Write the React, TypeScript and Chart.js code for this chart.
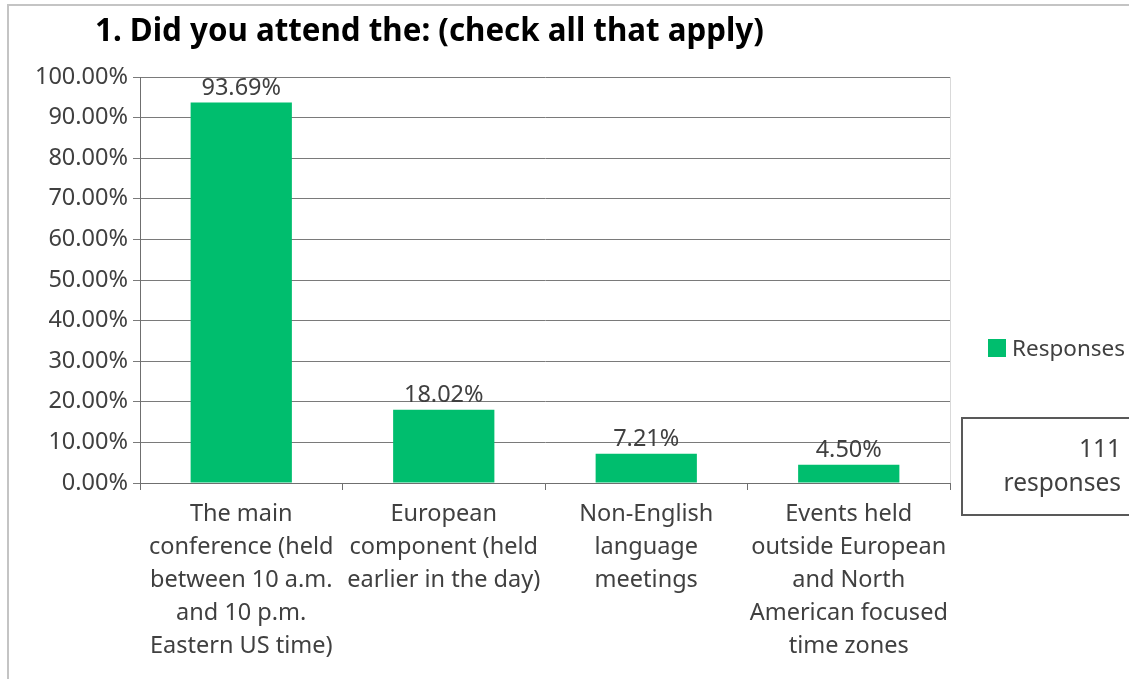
import React, { useEffect, useRef } from "react";
import { Chart, registerables } from "chart.js";

Chart.register(...registerables);

const TITLE = "1. Did you attend the: (check all that apply)";
const categories: string[][] = [
  ["The main", "conference (held", "between 10 a.m.", "and 10 p.m.", "Eastern US time)"],
  ["European", "component (held", "earlier in the day)"],
  ["Non-English", "language", "meetings"],
  ["Events held", "outside European", "and North", "American focused", "time zones"],
];
const seriesName = "Responses";
const values = [93.69, 18.02, 7.21, 4.5];
const yMin = 0;
const yMax = 100;
const yStep = 10;
const noteLines = ["111", "responses"];

const FONT = "'Noto Sans', 'DejaVu Sans', sans-serif";
const BAR_COLOR = "#00BE6E";
const TEXT_COLOR = "#404040";
const FS = 23.5;

const decor = {
  id: "decor",
  beforeDraw(chart: any) {
    const ctx = chart.ctx;
    ctx.save();
    ctx.fillStyle = "#ffffff";
    ctx.fillRect(0, 0, chart.width, chart.height);
    ctx.strokeStyle = "#c4c4c4";
    ctx.lineWidth = 2;
    ctx.beginPath();
    ctx.moveTo(8, chart.height);
    ctx.lineTo(8, 5);
    ctx.lineTo(chart.width, 5);
    ctx.stroke();
    ctx.restore();
  },
  afterDatasetsDraw(chart: any) {
    const ctx = chart.ctx;
    const meta = chart.getDatasetMeta(0);
    ctx.save();
    ctx.font = `${FS}px ${FONT}`;
    ctx.fillStyle = TEXT_COLOR;
    ctx.textAlign = "center";
    ctx.textBaseline = "alphabetic";
    meta.data.forEach((bar: any, i: number) => {
      ctx.fillText(values[i].toFixed(2) + "%", bar.x, bar.y - 8);
    });
    ctx.restore();
  },
  afterDraw(chart: any) {
    const ctx = chart.ctx;
    const area = chart.chartArea;
    ctx.save();
    // right edge of plot area
    ctx.strokeStyle = "#d9d9d9";
    ctx.lineWidth = 1;
    ctx.beginPath();
    ctx.moveTo(area.right + 0.5, area.top);
    ctx.lineTo(area.right + 0.5, area.bottom);
    ctx.stroke();

    // title
    ctx.fillStyle = "#000000";
    ctx.font = `bold 31.3px ${FONT}`;
    ctx.textAlign = "left";
    ctx.textBaseline = "alphabetic";
    ctx.fillText(TITLE, 95, 41);

    // legend
    ctx.fillStyle = BAR_COLOR;
    ctx.fillRect(988, 339, 18, 18);
    ctx.fillStyle = TEXT_COLOR;
    ctx.font = `22.5px ${FONT}`;
    ctx.fillText(seriesName, 1012, 356);

    // responses box
    ctx.strokeStyle = "#595959";
    ctx.lineWidth = 2;
    ctx.strokeRect(962, 418, 200, 97);
    ctx.fillStyle = TEXT_COLOR;
    ctx.font = `24.5px ${FONT}`;
    ctx.textAlign = "right";
    ctx.fillText(noteLines[0], 1121, 457);
    ctx.fillText(noteLines[1], 1121, 491);
    ctx.restore();
  },
};

export default function App() {
  const ref = useRef<HTMLCanvasElement | null>(null);

  useEffect(() => {
    document.body.style.margin = "0";
    const canvas = ref.current;
    if (!canvas) return;
    const chart = new Chart(canvas, {
      type: "bar",
      data: {
        labels: categories,
        datasets: [
          {
            label: seriesName,
            data: values,
            backgroundColor: BAR_COLOR,
            borderWidth: 0,
            barPercentage: 0.5,
            categoryPercentage: 1,
          },
        ],
      },
      options: {
        responsive: false,
        animation: false,
        devicePixelRatio: 1,
        layout: { padding: { top: 77, right: 179, bottom: 0, left: 0 } },
        plugins: {
          legend: { display: false },
          title: { display: false },
          tooltip: { enabled: false },
        },
        scales: {
          x: {
            grid: {
              display: true,
              drawOnChartArea: false,
              drawTicks: true,
              tickLength: 7,
              color: "#6f6f6f",
              offset: true,
            },
            border: { display: true, color: "#6f6f6f", width: 1 },
            ticks: {
              color: TEXT_COLOR,
              font: { family: FONT, size: FS, lineHeight: 33 / FS },
              padding: 8,
              maxRotation: 0,
              minRotation: 0,
              autoSkip: false,
            },
            afterFit(scale: any) {
              scale.height = 196;
            },
          },
          y: {
            min: yMin,
            max: yMax,
            grid: {
              color: "#7a7a7a",
              lineWidth: 1,
              tickLength: 7,
              drawTicks: true,
            },
            border: { display: true, color: "#6f6f6f", width: 1 },
            ticks: {
              stepSize: yStep,
              color: TEXT_COLOR,
              font: { family: FONT, size: FS },
              padding: 5,
              callback: (v: any) => Number(v).toFixed(2) + "%",
            },
            afterFit(scale: any) {
              scale.width = 140;
            },
          },
        },
      },
      plugins: [decor],
    });
    return () => chart.destroy();
  }, []);

  return (
    <div style={{ width: 1129, height: 679, position: "relative" }}>
      <canvas ref={ref} width={1129} height={679} style={{ display: "block" }} />
    </div>
  );
}
